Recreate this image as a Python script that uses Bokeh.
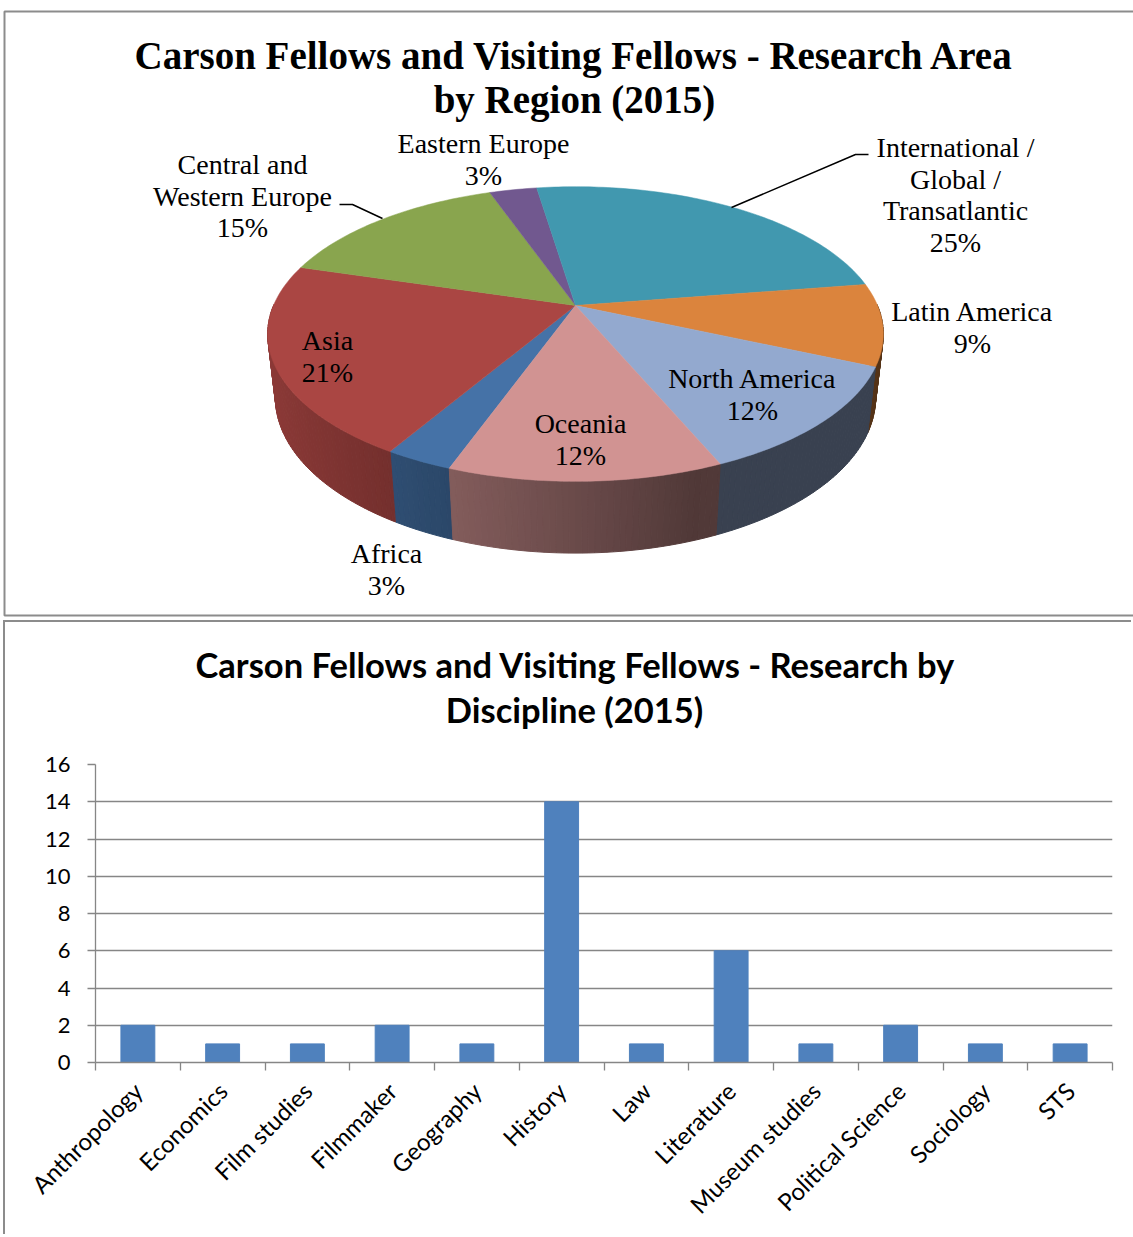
import math
from bokeh.plotting import figure
from bokeh.models import Range1d, FixedTicker
from bokeh.core.properties import value
from bokeh.embed import file_html
from bokeh.resources import INLINE

# ---------------- data ----------------
regions = ["Africa", "Asia", "Central and Western Europe", "Eastern Europe",
           "International / Global / Transatlantic", "Latin America",
           "North America", "Oceania"]
region_pct = [3, 21, 15, 3, 25, 9, 12, 12]
region_colors = ["#4572A7", "#AA4643", "#89A54E", "#71588F",
                 "#4198AF", "#DB843D", "#93A9CF", "#D19392"]
region_label_lines = [["Africa"], ["Asia"], ["Central and", "Western Europe"],
                      ["Eastern Europe"], ["International /", "Global /", "Transatlantic"],
                      ["Latin America"], ["North America"], ["Oceania"]]

disciplines = ["Anthropology", "Economics", "Film studies", "Filmmaker", "Geography",
               "History", "Law", "Literature", "Museum studies", "Political Science",
               "Sociology", "STS"]
discipline_counts = [2, 1, 1, 2, 1, 14, 1, 6, 1, 2, 1, 1]
y_ticks = [0, 2, 4, 6, 8, 10, 12, 14, 16]

pie_title = ["Carson Fellows and Visiting Fellows - Research Area", "by Region (2015)"]
bar_title = ["Carson Fellows and Visiting Fellows - Research by", "Discipline (2015)"]

# ---------------- layout / style ----------------
W1, H1 = 1133, 617
BORDER = "#8c8c8c"
SERIF = "Liberation Serif"
SANS = "Lato"

# label anchor positions (page px): first line centre
label_pos = {
    "Africa": (386, 553), "Asia": (327, 340), "Central and Western Europe": (242, 164),
    "Eastern Europe": (483, 143), "International / Global / Transatlantic": (955, 147),
    "Latin America": (972, 311), "North America": (752, 378), "Oceania": (580, 423),
}
LINE_H = 31.5
leader_lines = {
    "Central and Western Europe": ([339, 352, 382], [204, 204, 218]),
    "International / Global / Transatlantic": ([731, 855, 868], [207, 154, 154]),
}

# ---------------- pie (3D, perspective) ----------------
CX, CY = 575, 305
S = 302.0
PHI = math.radians(28)
D = 4.56
HGT = 0.24
START = 250.0  # degrees, slices go clockwise


def proj(t_deg, Y):
    t = math.radians(t_deg)
    X, Z = math.cos(t), math.sin(t)
    yp = Y * math.cos(PHI) + Z * math.sin(PHI)
    zp = Z * math.cos(PHI) - Y * math.sin(PHI)
    k = D / (D + zp)
    return CX + S * X * k, CY - S * yp * k


def shade(hex_color, f):
    h = hex_color.lstrip("#")
    r, g, b = (int(h[i:i + 2], 16) for i in (0, 2, 4))
    return "#%02x%02x%02x" % (int(r * f), int(g * f), int(b * f))


def wall_factor(t):
    t = t % 360
    if 180 <= t <= 290:
        return 0.38 + 0.46 * math.sin(math.pi / 2 * (290 - t) / 110)
    return 0.39


p1 = figure(width=W1, height=H1, x_range=Range1d(0, W1), y_range=Range1d(H1, 0),
            min_border=0, toolbar_location=None, output_backend="svg",
            x_axis_location=None, y_axis_location=None)
p1.grid.visible = False
p1.outline_line_color = None

# chart-area border
p1.line([W1 + 5, 4, 4, W1 + 5], [11, 11, 615, 615], line_color=BORDER, line_width=2)

total = float(sum(region_pct))
angles = []
a = START
for v in region_pct:
    a1 = a - v / total * 360.0
    angles.append((a, a1))
    a = a1

# walls (front half only)
wx, wy, wc = [], [], []
for (a0, a1), col in zip(angles, region_colors):
    lo, hi = min(a0, a1), max(a0, a1)
    t = lo
    while t < hi - 1e-9:
        t2 = min(t + 1.0, hi)
        tm = (t + t2) / 2
        if (tm % 360) > 180:
            pts = [proj(t, 0), proj(t2, 0), proj(t2, -HGT), proj(t, -HGT)]
            wx.append([q[0] for q in pts])
            wy.append([q[1] for q in pts])
            wc.append(shade(col, wall_factor(tm)))
        t = t2
p1.patches(wx, wy, fill_color=wc, line_color=wc, line_width=1)

# top faces
fx, fy = [], []
for (a0, a1) in angles:
    n = max(int(abs(a0 - a1)), 2)
    xs, ys = [CX], [CY]
    for i in range(n + 1):
        q = proj(a0 + (a1 - a0) * i / n, 0)
        xs.append(q[0]); ys.append(q[1])
    fx.append(xs); fy.append(ys)
p1.patches(fx, fy, fill_color=region_colors, line_color=region_colors, line_width=0.5)

# leader lines
for name, (lx, ly) in leader_lines.items():
    p1.line(lx, ly, line_color="black", line_width=1.5)

# labels
for name, lines, pct in zip(regions, region_label_lines, region_pct):
    x0, y0 = label_pos[name]
    all_lines = lines + ["%d%%" % round(pct / total * 100)]
    for i, txt in enumerate(all_lines):
        p1.text(x=[x0], y=[y0 + i * LINE_H], text=[txt], text_align="center",
                text_baseline="middle", text_font=value(SERIF), text_font_size="28px",
                text_color="black")

# title
for i, txt in enumerate(pie_title):
    p1.text(x=[574], y=[55 + i * 44], text=[txt], text_align="center",
            text_baseline="middle", text_font=value(SERIF), text_font_size="39px",
            text_font_style="bold", text_color="black")

# ---------------- bar chart title strip ----------------
OX = 5                 # canvas left on page (after margin + border)
TY0 = 622              # title strip canvas top on page
W2 = W1 - OX
HT = 120
pt = figure(width=W2, height=HT, x_range=Range1d(0, W2), y_range=Range1d(HT, 0),
            min_border=0, toolbar_location=None, output_backend="svg",
            x_axis_location=None, y_axis_location=None)
pt.grid.visible = False
pt.outline_line_color = None
pt.styles = {"border-left": "2px solid " + BORDER, "border-top": "2px solid " + BORDER,
             "margin-left": "3px", "margin-top": "3px"}
for txt, (tx, ty) in zip(bar_title, [(575, 664), (574, 709)]):
    pt.text(x=[tx - OX], y=[ty - TY0], text=[txt], text_align="center",
            text_baseline="middle", text_font=value(SANS), text_font_size="34.5px",
            text_font_style="bold", text_color="black")

# ---------------- bar chart ----------------
BY0 = TY0 + HT                       # bar canvas top on page
H2 = 1237 - BY0 - 1
FL, FR, FT, FB = 95, 1112, 766, 1064  # frame edges on page (incl. 2px layout shift)
n = len(disciplines)
centers = [i + 0.5 for i in range(n)]
p2 = figure(width=W2, height=H2, x_range=Range1d(0, n), y_range=Range1d(0, 16),
            min_border_left=FL - OX, min_border_right=OX + W2 - FR,
            min_border_top=FT - BY0, min_border_bottom=BY0 + H2 - FB,
            toolbar_location=None, output_backend="svg")
p2.styles = {"border-left": "2px solid " + BORDER, "margin-left": "3px"}
p2.outline_line_color = None
p2.vbar(x=centers, top=discipline_counts, width=0.4, fill_color="#4F81BD",
        line_color="#4F81BD")

GRID = "#868686"
p2.xgrid.visible = False
p2.ygrid.grid_line_color = GRID
p2.ygrid.grid_line_width = 1.3
p2.ygrid.ticker = FixedTicker(ticks=y_ticks)

ya = p2.yaxis[0]
ya.ticker = FixedTicker(ticks=y_ticks)
ya.axis_line_color = GRID
ya.axis_line_width = 1.3
ya.major_tick_line_color = GRID
ya.major_tick_line_width = 1.3
ya.major_tick_out = 8
ya.major_tick_in = 0
ya.minor_tick_line_color = None
ya.major_label_standoff = 17
ya.major_label_text_font = SANS
ya.major_label_text_font_size = "22px"
ya.major_label_text_color = "black"

xa = p2.xaxis[0]
xa.ticker = FixedTicker(ticks=centers, minor_ticks=list(range(n + 1)))
xa.major_label_overrides = {c: d for c, d in zip(centers, disciplines)}
xa.major_label_orientation = math.pi / 4
xa.axis_line_color = GRID
xa.axis_line_width = 1.3
xa.major_tick_line_color = None
xa.minor_tick_line_color = GRID
xa.minor_tick_line_width = 1.3
xa.minor_tick_out = 8
xa.minor_tick_in = 0
xa.major_label_standoff = 16
xa.major_label_text_font = SANS
xa.major_label_text_font_size = "24px"
xa.major_label_text_color = "black"

open("out.html", "w").write(file_html([p1, pt, p2], INLINE))
